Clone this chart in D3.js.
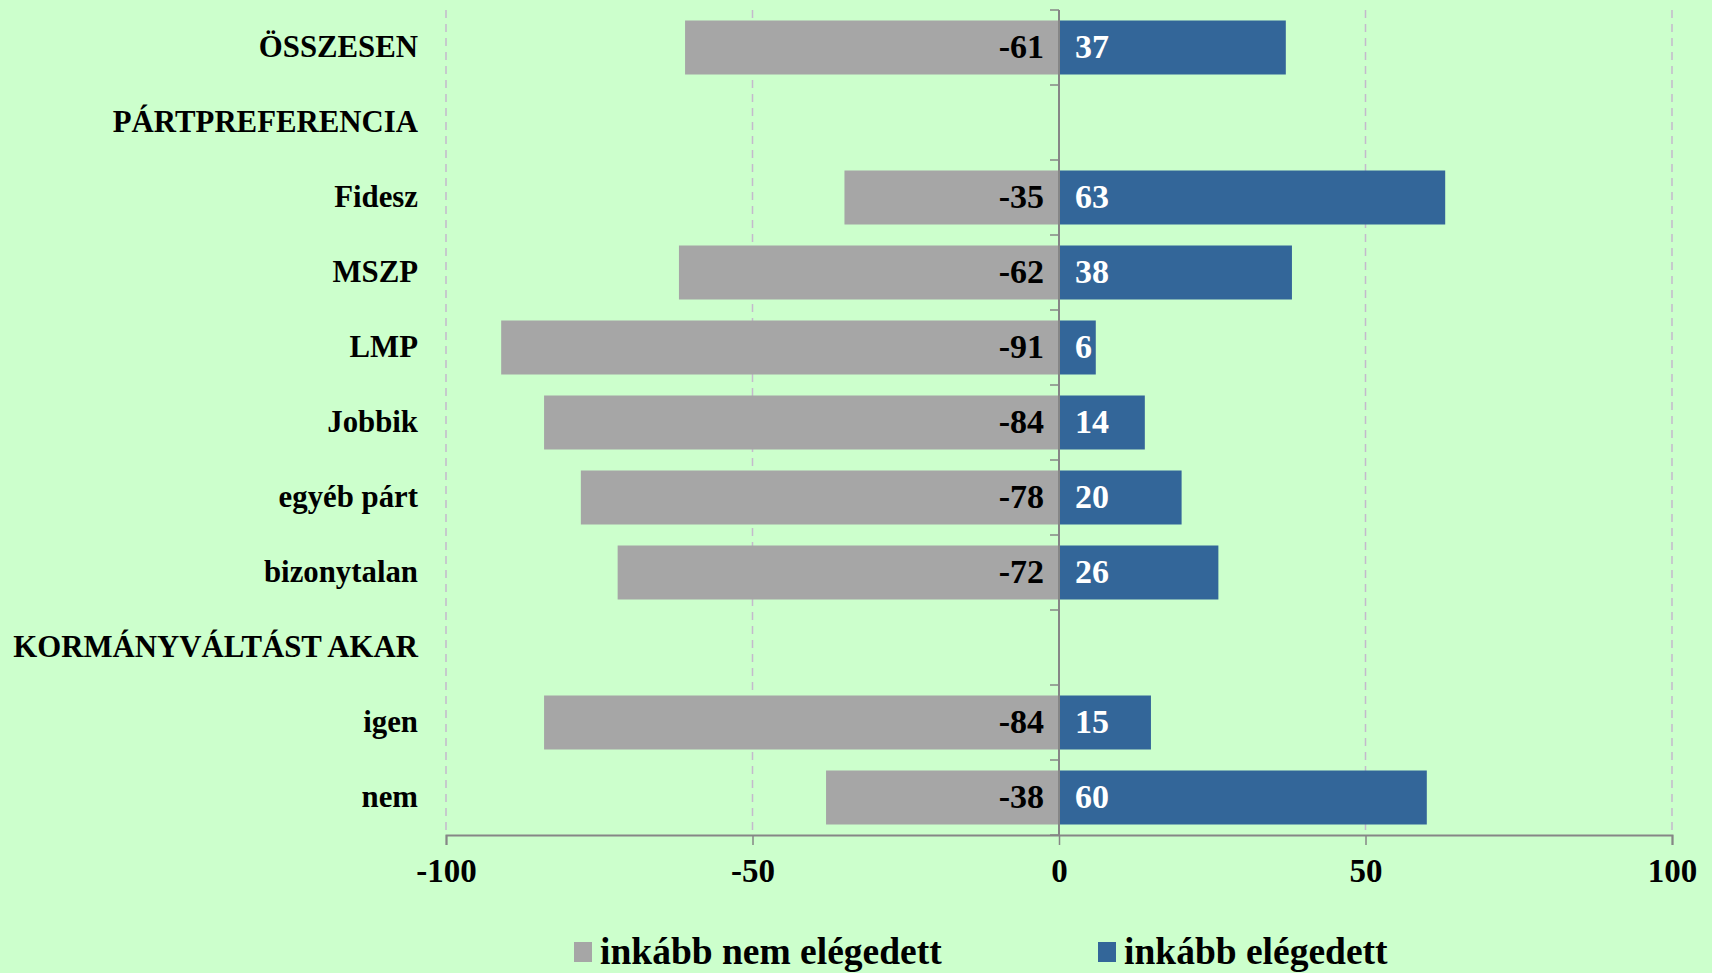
<!DOCTYPE html>
<html>
<head>
<meta charset="utf-8">
<script src="https://cdn.jsdelivr.net/npm/d3@7"></script>
<style>
  html, body { margin: 0; padding: 0; background: #ccffcc; }
  svg { display: block; font-family: "Liberation Serif", "Times New Roman", serif; font-weight: bold; }
</style>
</head>
<body>
<div id="viz"></div>
<script>
const w = 1712;
const h = 973;

const categories = ['ÖSSZESEN', 'PÁRTPREFERENCIA', 'Fidesz', 'MSZP', 'LMP', 'Jobbik',
    'egyéb párt', 'bizonytalan', 'KORMÁNYVÁLTÁST AKAR', 'igen', 'nem'];
const notSatisfied = [-61, null, -35, -62, -91, -84, -78, -72, null, -84, -38];
const satisfied = [37, null, 63, 38, 6, 14, 20, 26, null, 15, 60];
const xTicks = [-100, -50, 0, 50, 100];
const seriesNames = ['inkább nem elégedett', 'inkább elégedett'];
const colors = ['#a6a6a6', '#336699'];

const margin = {top: 10, left: 446, right: 40, bottom: 138};

const svg = d3.select('#viz').append('svg')
    .attr('width', w)
    .attr('height', h)

svg.append('rect')
    .attr('width', w)
    .attr('height', h)
    .attr('fill', '#ccffcc')

let x = d3.scaleLinear()
    .domain([-100, 100])
    .range([446, 1672])

let y = d3.scaleBand()
    .domain(categories)
    .range([margin.top, h - margin.bottom])
    .paddingInner(0.28)
    .paddingOuter(0.14)

let bottomY = h - margin.bottom;

// dashed gridlines
svg.append('g')
    .selectAll('line')
    .data(xTicks.filter(d => d !== 0))
    .join('line')
    .attr('x1', d => x(d))
    .attr('x2', d => x(d))
    .attr('y1', margin.top)
    .attr('y2', bottomY)
    .attr('stroke', '#c4b9cc')
    .attr('stroke-width', 1.5)
    .attr('stroke-dasharray', '8,6')

// bars
let rows = categories.map((c, i) => ({c, neg: notSatisfied[i], pos: satisfied[i]}))
    .filter(d => d.neg !== null)

svg.append('g')
    .selectAll('rect')
    .data(rows)
    .join('rect')
    .attr('x', d => x(d.neg))
    .attr('y', d => y(d.c))
    .attr('width', d => x(0) - x(d.neg))
    .attr('height', y.bandwidth())
    .attr('fill', colors[0])

svg.append('g')
    .selectAll('rect')
    .data(rows)
    .join('rect')
    .attr('x', x(0))
    .attr('y', d => y(d.c))
    .attr('width', d => x(d.pos) - x(0))
    .attr('height', y.bandwidth())
    .attr('fill', colors[1])

// value labels
svg.append('g')
    .selectAll('text')
    .data(rows)
    .join('text')
    .attr('x', x(0) - 15)
    .attr('y', d => y(d.c) + y.bandwidth() / 2)
    .attr('dy', '0.32em')
    .attr('text-anchor', 'end')
    .attr('font-size', 34)
    .attr('fill', '#000')
    .text(d => d.neg)

svg.append('g')
    .selectAll('text')
    .data(rows)
    .join('text')
    .attr('x', x(0) + 16)
    .attr('y', d => y(d.c) + y.bandwidth() / 2)
    .attr('dy', '0.32em')
    .attr('font-size', 34)
    .attr('fill', '#fff')
    .text(d => d.pos)

// x axis
let xAxis = svg.append('g')
    .attr('transform', `translate(0,${bottomY})`)
    .call(d3.axisBottom(x).tickValues(xTicks).tickFormat(d => String(d)).tickSize(10).tickPadding(14))

xAxis.select('.domain').attr('stroke', '#868686').attr('stroke-width', 2)
xAxis.selectAll('.tick line').attr('stroke', '#868686').attr('stroke-width', 1.5)
xAxis.selectAll('.tick text')
    .attr('font-size', 33)
    .attr('font-family', '"Liberation Serif", serif')
    .attr('font-weight', 'bold')
    .attr('fill', '#000')

// vertical zero axis with category ticks
let yAxis = svg.append('g')
    .attr('transform', `translate(${x(0)},0)`)

yAxis.append('line')
    .attr('y1', margin.top)
    .attr('y2', bottomY)
    .attr('stroke', '#868686')
    .attr('stroke-width', 2)

let step = y.step();
yAxis.selectAll('line.tk')
    .data(d3.range(categories.length + 1))
    .join('line')
    .attr('class', 'tk')
    .attr('x1', -9)
    .attr('x2', 0)
    .attr('y1', i => margin.top + i * step)
    .attr('y2', i => margin.top + i * step)
    .attr('stroke', '#868686')
    .attr('stroke-width', 1.5)

// category labels
svg.append('g')
    .selectAll('text')
    .data(categories)
    .join('text')
    .attr('x', 418)
    .attr('y', d => y(d) + y.bandwidth() / 2)
    .attr('dy', '0.3em')
    .attr('text-anchor', 'end')
    .attr('font-size', 30.8)
    .attr('fill', '#000')
    .text(d => d)

// legend
let legendX = [574, 1098];
let legend = svg.append('g')
    .selectAll('g')
    .data(seriesNames)
    .join('g')
    .attr('transform', (d, i) => `translate(${legendX[i]},952)`)

legend.append('rect')
    .attr('x', 0)
    .attr('y', -10)
    .attr('width', 18)
    .attr('height', 20)
    .attr('fill', (d, i) => colors[i])

legend.append('text')
    .attr('x', 26)
    .attr('dy', '0.33em')
    .attr('font-size', 37.5)
    .attr('fill', '#000')
    .text(d => d)
</script>
</body>
</html>
